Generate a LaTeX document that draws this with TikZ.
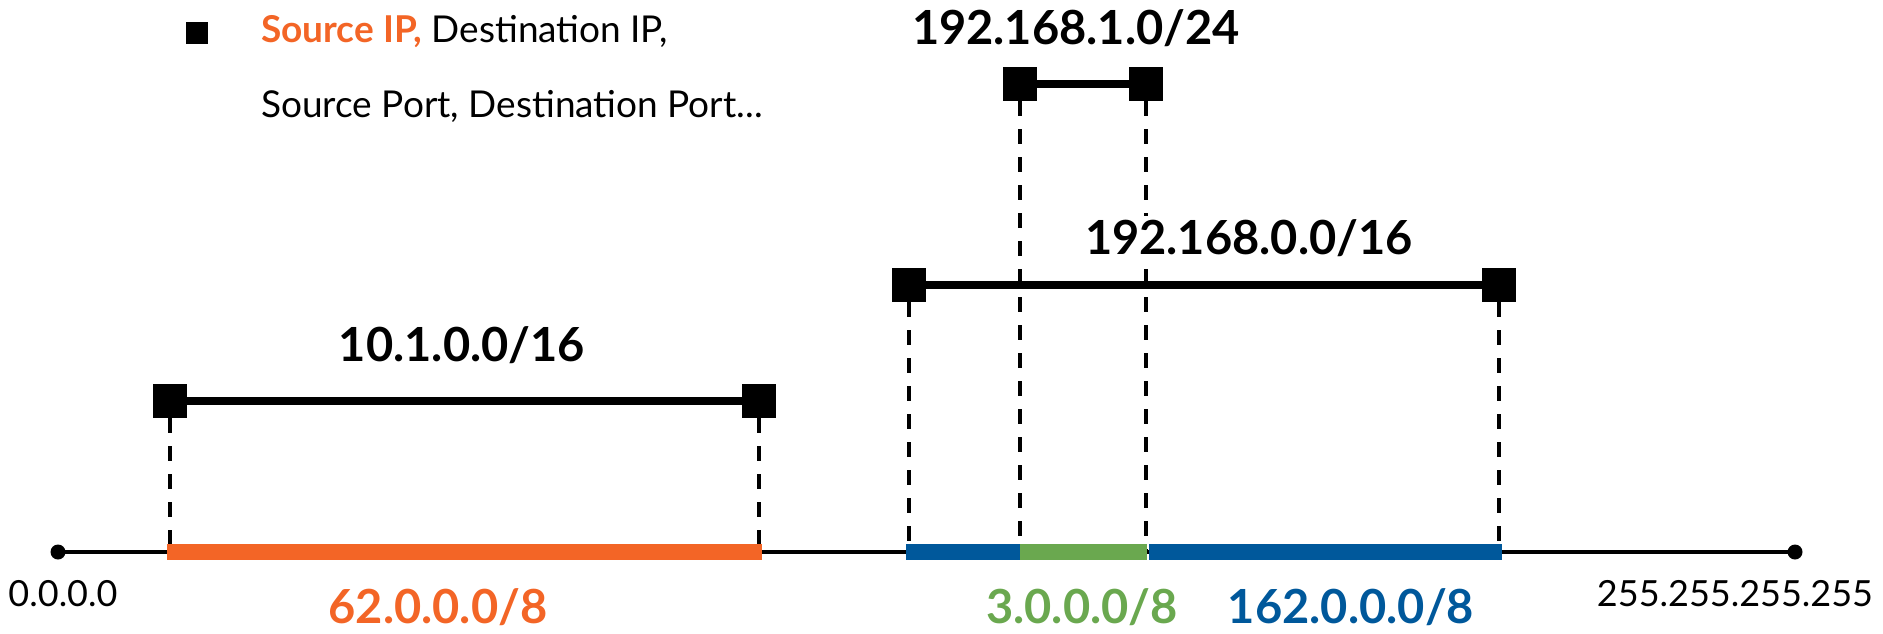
\documentclass[tikz,border=0pt]{standalone}
\usepackage{fontspec}
\setmainfont{Lato}
\definecolor{rorange}{HTML}{F36526}
\definecolor{rblue}{HTML}{00589B}
\definecolor{rgreen}{HTML}{6AA84F}
\tikzset{
  endsq/.style={fill=black, draw=none, minimum size=34pt, inner sep=0pt, outer sep=0pt},
  span/.style={line width=7.5pt},
  guide/.style={line width=3.6pt, dash pattern=on 15pt off 13pt},
  axisline/.style={line width=3.5pt},
  seg/.style={line width=16pt},
  cidr/.style={font=\fontsize{47}{52}\selectfont\bfseries, inner sep=0pt, anchor=base},
  ipend/.style={font=\fontsize{36}{40}\selectfont, inner sep=0pt, anchor=base},
  legend/.style={font=\fontsize{37}{42}\selectfont, inner sep=0pt, anchor=base west},
}
\begin{document}
\begin{tikzpicture}[x=1pt,y=-1pt]
\useasboundingbox (0,0) rectangle (1883,633);

% address axis
\coordinate (lo) at (58,552);
\coordinate (hi) at (1795,552);
\draw[axisline] (lo) -- (hi);
\fill (lo) circle (7.5pt);
\fill (hi) circle (7.5pt);

% range end markers
\node[endsq] (a1) at (170,401) {};
\node[endsq] (a2) at (759,401) {};
\node[endsq] (b1) at (909,285) {};
\node[endsq] (b2) at (1499,285) {};
\node[endsq] (c1) at (1020,84) {};
\node[endsq] (c2) at (1146,84) {};

% feet of the guides on the axis
\coordinate (fa1) at (170,552);
\coordinate (fa2) at (759,552);
\coordinate (fb1) at (909,552);
\coordinate (fb2) at (1499,552);
\coordinate (fc1) at (1020,552);
\coordinate (fc2) at (1146,552);

% guides from the markers down to the axis
\draw[guide] (a1.south) -- (fa1);
\draw[guide] (a2.south) -- (fa2);
\draw[guide] (b1.south) -- (fb1);
\draw[guide] (b2.south) -- (fb2);
\draw[guide] (c1.south) -- (fc1);
\draw[guide] (c2.south) -- (fc2);

% spans between markers
\draw[span] (a1) -- (a2);
\draw[span] (b1) -- (b2);
\draw[span] (c1) -- (c2);

% coloured blocks on the axis
\coordinate (o1) at (167,552);
\coordinate (o2) at (762,552);
\coordinate (u1) at (906,552);
\coordinate (g1) at (1020,552);
\coordinate (g2) at (1147,552);
\coordinate (u2) at (1149,552);
\coordinate (u3) at (1502,552);
\draw[seg, rorange] (o1) -- (o2);
\draw[seg, rblue] (u1) -- (g1);
\draw[seg, rgreen] (g1) -- (g2);
\draw[seg, rblue] (u2) -- (u3);

% prefix labels
\node[cidr] (la) at (462,361) {10.1.0.0/16};
\node[cidr, fill=white, inner sep=3pt] (lb) at (1249,254) {192.168.0.0/16};
\node[cidr] (lc) at (1076,44) {192.168.1.0/24};

% axis labels
\node[ipend] (n0) at (63,606) {0.0.0.0};
\node[ipend] (n1) at (1735,606) {255.255.255.255};
\node[cidr, text=rorange] (p1) at (438,623) {62.0.0.0/8};
\node[cidr, text=rgreen] (p2) at (1082,623) {3.0.0.0/8};
\node[cidr, text=rblue] (p3) at (1351,623) {162.0.0.0/8};

% legend
\node[fill=black, minimum size=22pt, inner sep=0pt] (bul) at (197,33) {};
\node[legend] (l1) at (261,42) {{\bfseries\color{rorange}Source IP,} Destination IP,};
\node[legend] (l2) at (261,117) {Source Port, Destination Port...};
\end{tikzpicture}
\end{document}
